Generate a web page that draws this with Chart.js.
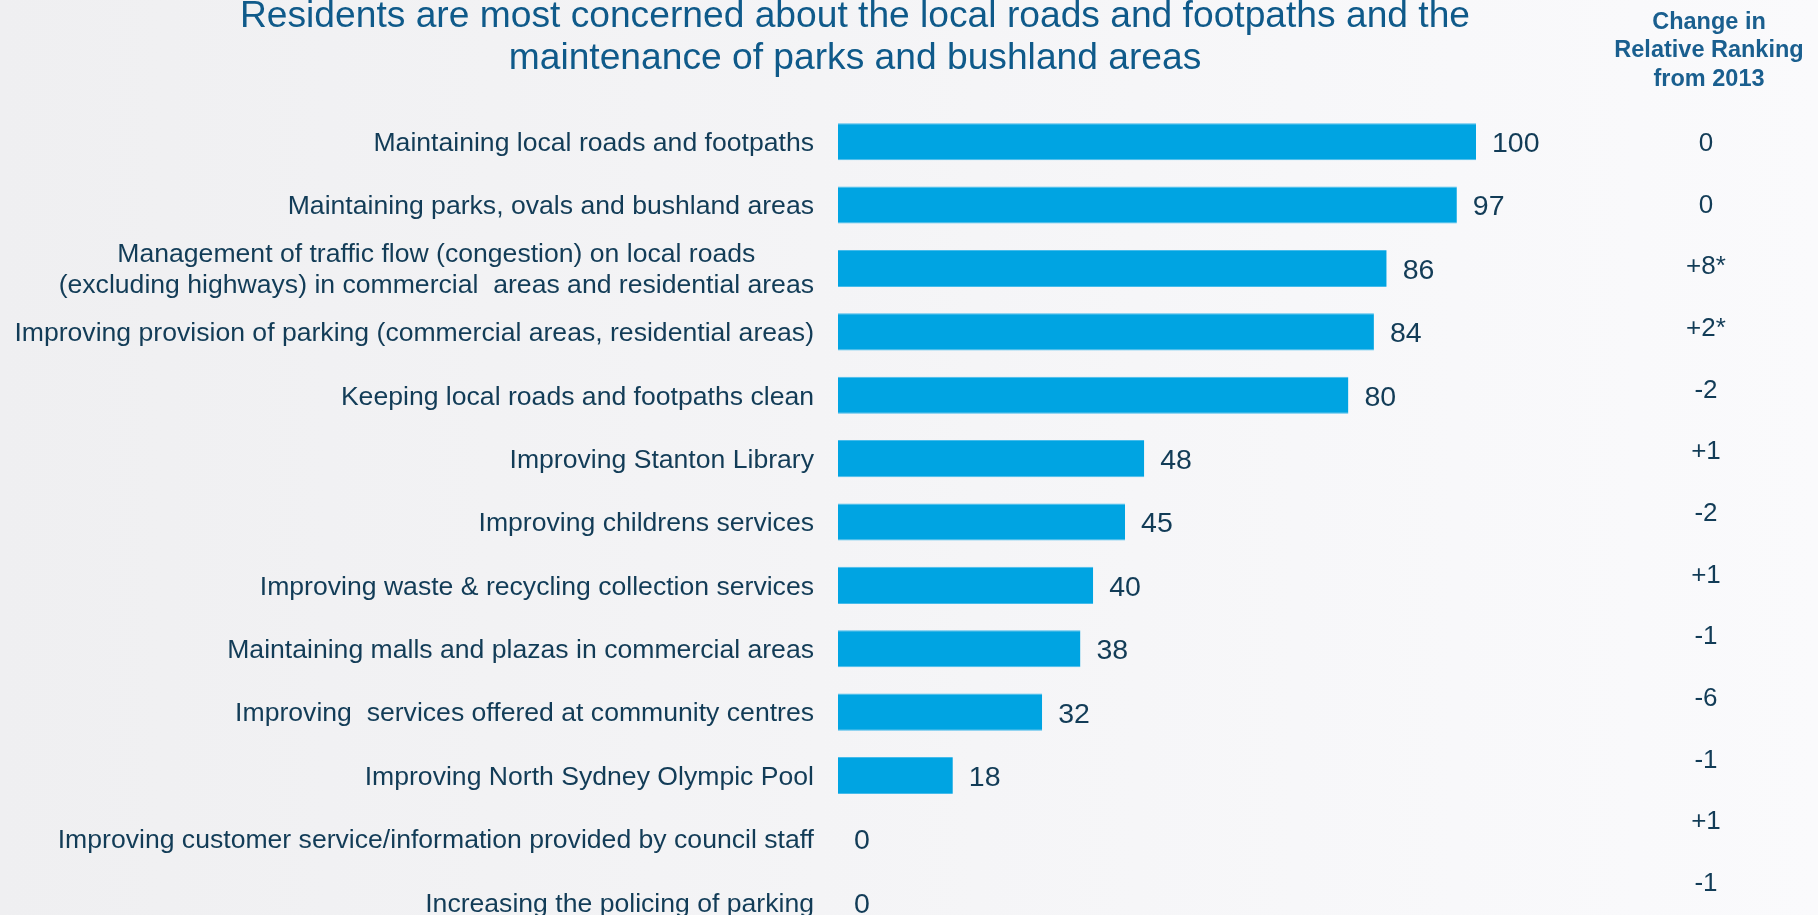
<!DOCTYPE html>
<html>
<head>
<meta charset="utf-8">
<script src="https://cdn.jsdelivr.net/npm/chart.js@4.4.1/dist/chart.umd.min.js"></script>
<style>
  html, body { margin: 0; padding: 0; overflow: hidden; }
  body {
    width: 1818px; height: 915px;
    background: linear-gradient(90deg, #efeff1 0%, #f4f4f6 45%, #f8f8fa 80%, #fafafc 100%);
  }
  canvas { display: block; }
</style>
</head>
<body>
<canvas id="chart" width="1818" height="950"></canvas>
<script>
const titleLines = [
  'Residents are most concerned about the local roads and footpaths and the',
  'maintenance of parks and bushland areas'
]
const headerLines = ['Change in', 'Relative Ranking', 'from 2013']

const categories = [
  'Maintaining local roads and footpaths',
  'Maintaining parks, ovals and bushland areas',
  ['Management of traffic flow (congestion) on local roads',
   '(excluding highways) in commercial  areas and residential areas'],
  'Improving provision of parking (commercial areas, residential areas)',
  'Keeping local roads and footpaths clean',
  'Improving Stanton Library',
  'Improving childrens services',
  'Improving waste & recycling collection services',
  'Maintaining malls and plazas in commercial areas',
  'Improving  services offered at community centres',
  'Improving North Sydney Olympic Pool',
  'Improving customer service/information provided by council staff',
  'Increasing the policing of parking'
]
const scores = [100, 97, 86, 84, 80, 48, 45, 40, 38, 32, 18, 0, 0]
const rankChange = ['0', '0', '+8*', '+2*', '-2', '+1', '-2', '+1', '-1', '-6', '-1', '+1', '-1']

const TEXT = '#123c57'
const BAR = '#00a4e2'
const FONT = '"Liberation Sans", Arial, sans-serif'

// category labels, value labels, title and the ranking column
const rowText = {
  id: 'rowText',
  afterDatasetsDraw(chart) {
    const {ctx, scales: {x, y}} = chart
    ctx.save()
    ctx.textBaseline = 'middle'

    // title
    ctx.fillStyle = '#0f5a8a'
    ctx.font = '37.2px ' + FONT
    ctx.textAlign = 'center'
    titleLines.forEach((t, i) => ctx.fillText(t, 855, 17 + i * 42))

    // column header
    ctx.fillStyle = '#1a5f8f'
    ctx.font = 'bold 23.5px ' + FONT
    headerLines.forEach((t, i) => ctx.fillText(t, 1709, 22.5 + i * 28.5))

    // category names, right aligned block, lines centred within it
    ctx.fillStyle = TEXT
    ctx.font = '26.6px ' + FONT
    categories.forEach((cat, i) => {
      const yc = y.getPixelForValue(i) + 2
      const lines = Array.isArray(cat) ? cat : [cat]
      const blockW = Math.max(...lines.map(l => ctx.measureText(l).width))
      const right = x.left - 24
      lines.forEach((l, j) => {
        ctx.fillText(l, right - blockW / 2, yc + (j - (lines.length - 1) / 2) * 31)
      })
    })

    // values at the bar ends
    ctx.font = '28.5px ' + FONT
    ctx.textAlign = 'left'
    chart.getDatasetMeta(0).data.forEach((bar, i) => {
      ctx.fillText(String(scores[i]), bar.x + 16, bar.y + 2.5)
    })

    // change in ranking column (slightly tighter spacing than the bars)
    ctx.font = '26px ' + FONT
    ctx.textAlign = 'center'
    const y0 = y.getPixelForValue(0) + 2
    const step = (y.getPixelForValue(1) - y.getPixelForValue(0)) * 0.973
    rankChange.forEach((c, i) => ctx.fillText(c, 1706, y0 + i * step))

    ctx.restore()
  }
}

new Chart(document.getElementById('chart').getContext('2d'), {
  type: 'bar',
  data: {
    labels: categories,
    datasets: [{
      data: scores,
      backgroundColor: BAR,
      borderColor: '#45bbeb',
      borderWidth: {top: 1, bottom: 1, left: 0, right: 0},
      borderSkipped: false,
      categoryPercentage: 1,
      barPercentage: 0.585
    }]
  },
  options: {
    indexAxis: 'y',
    responsive: false,
    animation: false,
    layout: {padding: {left: 838, right: 342, top: 110, bottom: 16}},
    scales: {
      x: {display: false, min: 0, max: 100},
      y: {display: false}
    },
    plugins: {
      legend: {display: false},
      tooltip: {enabled: false}
    }
  },
  plugins: [rowText]
})
</script>
</body>
</html>
